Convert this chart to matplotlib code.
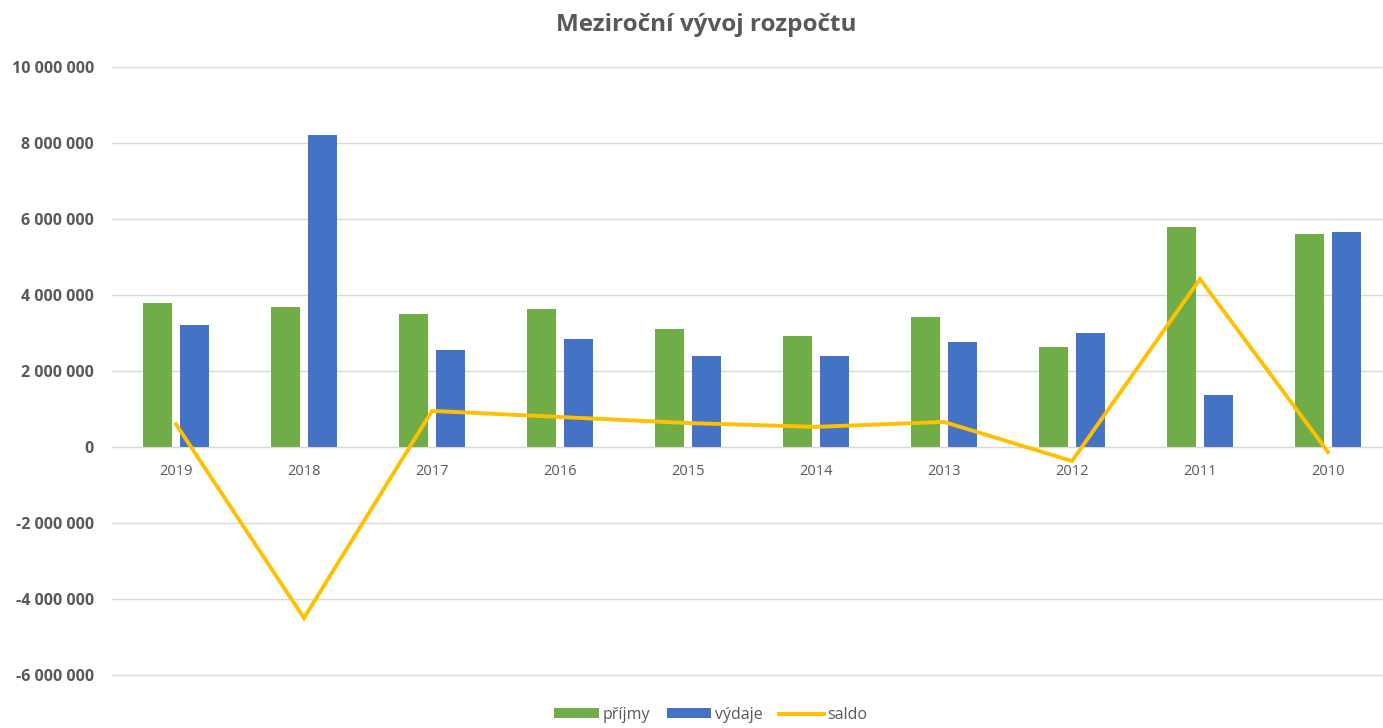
import matplotlib
matplotlib.use("Agg")
import matplotlib.pyplot as plt
import numpy as np
from matplotlib.ticker import FuncFormatter

years = ["2019", "2018", "2017", "2016", "2015", "2014", "2013", "2012", "2011", "2010"]
prijmy = [3780000, 3690000, 3500000, 3630000, 3100000, 2920000, 3420000, 2640000, 5800000, 5600000]
vydaje = [3200000, 8210000, 2550000, 2840000, 2390000, 2390000, 2760000, 3010000, 1360000, 5670000]
saldo = [600000, -4500000, 950000, 790000, 630000, 530000, 660000, -370000, 4420000, -130000]

plt.rcParams['font.family'] = ['Open Sans', 'DejaVu Sans']
W, H = 1383, 728
fig = plt.figure(figsize=(W / 100, H / 100), dpi=100)
ax = fig.add_axes([112 / W, 1 - 677 / H, 1280 / W, (677 - 67) / H])

x = np.arange(len(years))
bw = 0.225
off = 0.145
b1 = ax.bar(x - off, prijmy, bw, color="#70AD47", label="příjmy", zorder=2)
b2 = ax.bar(x + off, vydaje, bw, color="#4472C4", label="výdaje", zorder=2)
l1, = ax.plot(x, saldo, color="#FFC000", lw=2.8, label="saldo", zorder=3, solid_joinstyle="miter")

ax.set_xlim(-0.5, len(years) - 0.5)
ax.set_ylim(-6000000 - 2000000 * 2 / 76, 10000000)
ax.set_yticks(np.arange(-6000000, 10000001, 2000000))
ax.yaxis.set_major_formatter(FuncFormatter(lambda v, p: f"{int(round(v)):,}".replace(",", " ")))
ax.grid(axis="y", color="#D9D9D9", lw=1, zorder=0)
ax.set_axisbelow(True)
for s in ["top", "right", "left"]:
    ax.spines[s].set_visible(False)
ax.spines["bottom"].set_position(("data", 0))
ax.spines["bottom"].set_color("#D9D9D9")
ax.set_xticks(x)
ax.set_xticklabels(years)
ax.tick_params(axis="both", length=0, colors="#595959")
ax.tick_params(axis="x", pad=12, labelsize=10.5)
ax.tick_params(axis="y", pad=13, labelsize=11.5)
for lbl in ax.get_yticklabels():
    lbl.set_fontweight("bold")

fig.text(706 / W, 1 - 25 / H, "Meziroční vývoj rozpočtu", ha="center", va="center",
         fontsize=17.5, fontweight="bold", color="#595959")

leg = fig.legend(handles=[b1, b2, l1], labels=["příjmy", "výdaje", "saldo"],
                 loc="center", bbox_to_anchor=(711 / W, 1 - 715 / H), ncol=3, frameon=False,
                 fontsize=11.5, handlelength=2.8, handleheight=0.6, columnspacing=1.0, handletextpad=0.25)
for t in leg.get_texts():
    t.set_color("#595959")

fig.savefig("out.png", dpi=100)
